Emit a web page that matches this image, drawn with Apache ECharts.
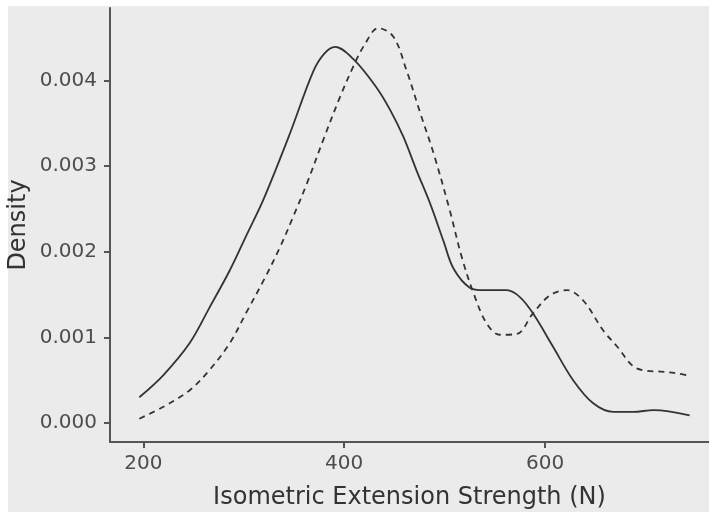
<!DOCTYPE html>
<html>
<head>
<meta charset="utf-8">
<script src="https://cdn.jsdelivr.net/npm/echarts@6/dist/echarts.min.js"></script>
<style>
html,body{margin:0;padding:0;background:#ffffff;}
#chart{width:709px;height:512px;}
</style>
</head>
<body>
<div id="chart"></div>
<script>
// Solid curve (density estimate 1)
var solidX = [196, 220, 246, 266, 286, 303, 320, 346, 369, 380, 391, 409, 432, 446, 459, 472, 486, 499, 509, 525, 539, 562, 575, 588, 608, 628, 648, 668, 688, 708, 744];
var solidY = [0.00030, 0.00056, 0.00093, 0.00135, 0.00178, 0.00220, 0.00262, 0.00338, 0.00410, 0.00431, 0.00439, 0.00425, 0.00392, 0.00365, 0.00334, 0.00295, 0.00255, 0.00212, 0.00180, 0.00158, 0.00155, 0.00155, 0.00147, 0.00128, 0.00089, 0.00050, 0.00023, 0.00013, 0.00013, 0.00015, 0.00009];
// Dashed curve (density estimate 2)
var dashedX = [196, 220, 246, 266, 286, 303, 320, 336, 350, 363, 379, 396, 409, 420, 434, 449, 462, 476, 489, 505, 517, 529, 542, 555, 572, 588, 605, 622, 638, 658, 672, 688, 701, 715, 731, 744];
var dashedY = [0.00005, 0.00019, 0.00038, 0.00062, 0.00093, 0.00130, 0.00167, 0.00205, 0.00243, 0.00280, 0.00330, 0.00381, 0.00416, 0.00441, 0.00461, 0.00451, 0.00412, 0.00361, 0.00315, 0.00249, 0.00194, 0.00151, 0.00116, 0.00103, 0.00104, 0.00128, 0.00149, 0.00155, 0.00143, 0.00108, 0.00089, 0.00066, 0.00061, 0.00060, 0.00058, 0.00055];
// Tick labels
var xTicks = [200, 400, 600];
var yTicks = [0, 0.001, 0.002, 0.003, 0.004];
var xTitle = 'Isometric Extension Strength (N)';
var yTitle = 'Density';

function pairs(xs, ys) {
  return xs.map(function (x, i) { return [x, ys[i]]; });
}

var chart = echarts.init(document.getElementById('chart'), null, {renderer: 'canvas'});
var font = '"DejaVu Sans", Verdana, sans-serif';
chart.setOption({
  backgroundColor: '#ffffff',
  animation: false,
  graphic: [{
    type: 'rect', z: -10, silent: true,
    shape: {x: 8, y: 6, width: 701, height: 506},
    style: {fill: '#ebebeb'}
  }],
  grid: {left: 110, right: 0, top: 8, bottom: 70, containLabel: false, outerBoundsMode: 'none'},
  xAxis: {
    type: 'value', min: 166.8, max: 763.3,
    name: xTitle, nameLocation: 'middle', nameGap: 44, nameMoveOverlap: false,
    nameTextStyle: {fontFamily: font, fontSize: 24, color: '#333333'},
    axisLine: {show: true, onZero: false, lineStyle: {color: '#555555', width: 2}},
    axisTick: {show: true, length: 6, customValues: xTicks, lineStyle: {color: '#555555', width: 2}},
    axisLabel: {customValues: xTicks, margin: 12, fontFamily: font, fontSize: 20, color: '#4d4d4d'},
    splitLine: {show: false}
  },
  yAxis: {
    type: 'value', min: -0.000222, max: 0.004845,
    name: yTitle, nameLocation: 'middle', nameGap: 79, nameRotate: 90, nameMoveOverlap: false,
    nameTextStyle: {fontFamily: font, fontSize: 24, color: '#333333'},
    axisLine: {show: true, onZero: false, lineStyle: {color: '#555555', width: 2}},
    axisTick: {show: true, length: 6, customValues: yTicks, lineStyle: {color: '#555555', width: 2}},
    axisLabel: {customValues: yTicks, margin: 13, fontFamily: font, fontSize: 20, color: '#4d4d4d',
      formatter: function (v) { return v.toFixed(3); }},
    splitLine: {show: false}
  },
  series: [{
    type: 'line', data: pairs(solidX, solidY), smooth: 0.35, showSymbol: false,
    lineStyle: {color: '#333333', width: 1.8, type: 'solid'}
  }, {
    type: 'line', data: pairs(dashedX, dashedY), smooth: 0.35, showSymbol: false,
    lineStyle: {color: '#333333', width: 1.8, type: [6, 5]}
  }]
});
</script>
</body>
</html>
